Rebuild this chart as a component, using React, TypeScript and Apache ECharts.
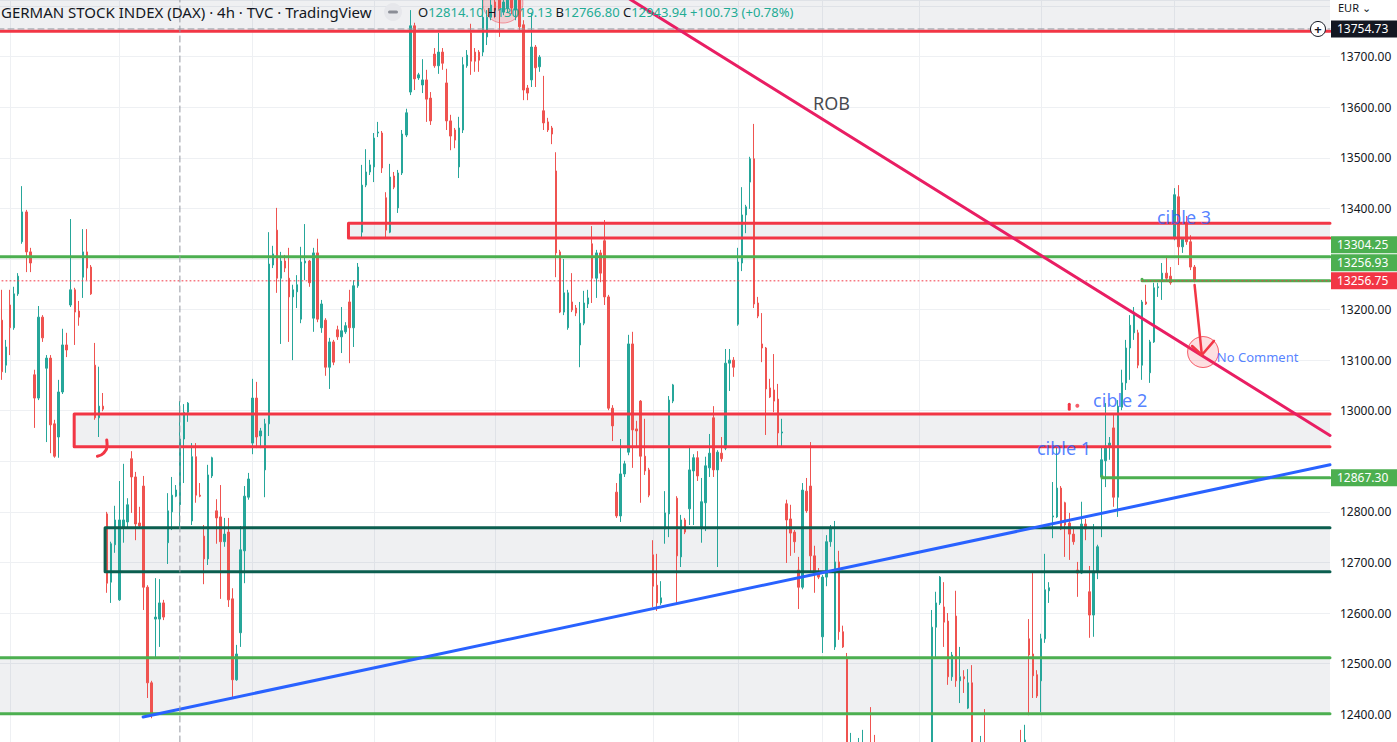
import React, { useEffect, useRef } from "react";
import * as echarts from "echarts";

// [open, close, low, high] — 4h candles, left to right
const candles: number[][] = [
  [13179,13077,13061,13239],[13090,13126,13075,13140],[13209,13164,13110,13239],[13164,13231,13160,13245],
  [13231,13266,13227,13272],[13334,13393,13330,13444],[13393,13314,13274,13397],[13314,13292,13274,13322],
  [13071,13025,12966,13081],[13025,13185,13021,13207],[13185,13144,13136,13189],[13084,13104,12938,13110],
  [13104,12972,12916,13110],[12974,12910,12907,12982],[12948,13037,12907,13061],[13037,13130,13033,13162],
  [13130,13120,13106,13154],[13209,13239,13205,13379],[13239,13195,13130,13243],[13197,13185,13168,13217],
  [13264,13314,13223,13359],[13314,13282,13258,13359],[13284,13231,13229,13288],[13090,12986,12982,13134],
  [12986,13009,12948,13087],[13009,13003,12999,13035],[12796,12659,12640,12800],[12661,12737,12620,12741],
  [12735,12784,12719,12812],[12626,12784,12624,12861],[12770,12784,12739,12895],[12780,12814,12770,12827],
  [12905,12869,12798,12920],[12869,12776,12744,12879],[12778,12772,12770,12810],[12851,12651,12606,12871],
  [12651,12462,12432,12655],[12462,12398,12392,12466],[12588,12592,12513,12669],[12588,12620,12533,12667],
  [12620,12592,12586,12626],[12739,12802,12697,12837],[12800,12833,12764,12869],[12831,12843.21,12829,12853],
  [12814.10,12943.94,12766.80,13019.13],[12944,12997,12857,13013],[12997,13015,12978,13017],[12782,12909,12774,12936],
  [12909,12833,12818,12936],[12833,12831,12829,12857],[12752,12707,12657,12774],[12707,12873,12695,12893],
  [12871,12907,12867,12909],[12802,12788,12737,12825],[12790,12741,12628,12853],[12741,12756,12731,12788],
  [12760,12626,12612,12788],[12628,12468,12434,12649],[12468,12519,12466,12537],[12561,12725,12533,12772],
  [12723,12831,12659,12851],[12829,12865,12824,12877],[12936,13025,12914,13063],[13025,12948,12926,13057],
  [12950,12960,12926,12966],[12883,12974,12829,12984],[12974,13290,12950,13353],[13288,13310,13282,13326],
  [13357,13262,13233,13401],[13262,13296,13132,13314],[13296,13282,13274,13308],[13262,13225,13136,13322],
  [13225,13239,13100,13249],[13235,13249,13203,13268],[13181,13294,13173,13324],[13292,13296,13258,13369],
  [13296,13253,13245,13298],[13183,13312,13156,13322],[13312,13181,13175,13340],[13164,13211,13154,13219],
  [13179,13086,13069,13183],[13086,13136,13043,13144],[13136,13096,13090,13140],[13160,13146,13140,13168],
  [13146,13158,13114,13205],[13156,13168,13152,13175],[13215,13164,13094,13239],[13164,13247,13126,13258],
  [13247,13284,13243,13292],[13353,13446,13343,13486],[13446,13472,13442,13517],[13472,13486,13466,13496],
  [13482,13539,13452,13549],[13549,13551,13541,13571],[13549,13480,13470,13553],[13421,13357,13340,13432],
  [13353,13462,13351,13488],[13464,13442,13438,13472],[13401,13470,13391,13476],[13470,13547,13466,13555],
  [13545,13589,13541,13597],[13630,13761,13624,13792],[13761,13656,13634,13767],[13658,13664,13654,13668],
  [13644,13654,13628,13695],[13654,13616,13571,13674],[13618,13573,13565,13630],[13705,13682,13678,13717],
  [13682,13709,13666,13747],[13709,13687,13674,13717],[13648,13573,13555,13676],[13573,13543,13515,13585],
  [13555,13535,13519,13559],[13482,13559,13460,13581],[13555,13684,13549,13699],[13682,13703,13678,13713],
  [13747,13691,13664,13765],[13709,13691,13670,13717],[13709,13693,13670,13713],[13709,13778,13701,13812],
  [13739,13778,13723,13792],[13778,13802,13772,13822],[13808,13792,13776,13822],[13812,13792,13739,13828],
  [13788,13808,13782,13822],[13796,13812,13788,13824],[13812,13796,13784,13820],[13792,13812,13772,13822],
  [13812,13759,13749,13822],[13763,13634,13614,13772],[13638,13628,13614,13644],[13654,13719,13640,13786],
  [13719,13678,13640,13723],[13680,13699,13670,13703],[13593,13569,13555,13662],[13571,13555,13551,13579],
  [13559,13547,13527,13563],[13474,13312,13264,13511],[13314,13195,13193,13318],[13195,13233,13189,13300],
  [13164,13233,13160,13239],[13215,13199,13195,13272],[13203,13193,13187,13209],[13130,13173,13086,13215],
  [13173,13213,13169,13237],[13211,13223,13203,13239],[13330,13262,13213,13365],[13262,13312,13223,13318],
  [13312,13272,13254,13318],[13336,13225,13209,13377],[13225,13005,13001,13229],[13005,12970,12940,13011],
  [12839,12792,12788,12857],[12792,12875,12780,12944],[12875,12895,12869,12901],[12918,13132,12912,13150],
  [13132,12962,12887,13156],[12964,12960,12926,12980],[13019,12910,12818,13021],[12910,12881,12873,12984],
  [12883,12833,12829,12887],[12715,12653,12612,12744],[12655,12620,12604,12717],[12620,12630,12616,12663],
  [12766,12798,12737,12841],[12796,13021,12750,13029],[13019,13051,13015,13053],[12827,12713,12620,12831],
  [12711,12784,12691,12794],[12784,12760,12756,12788],[12806,12883,12774,12928],[12881,12907,12774,12914],
  [12907,12871,12861,12920],[12770,12820,12739,12867],[12818,12891,12762,12909],[12887,12916,12869,12954],
  [12986,12883,12869,13009],[12883,12918,12691,12922],[12916,12905,12899,12948],[12926,13094,12922,13122],
  [13094,13100,13039,13122],[13100,13086,13067,13106],[13171,13294,13168,13322],[13292,13387,13276,13442],
  [13387,13403,13351,13407],[13452,13498,13399,13502],[13498,13211,13203,13567],[13213,13187,13183,13225],
  [13132,13124,13096,13193],[13124,13043,12952,13126],[13045,13027,13025,13063],[13041,13019,12997,13112],
  [13023,12956,12928,13053],[12956,12958,12930,12984],[12816,12784,12699,12824],[12786,12758,12713,12814],
  [12760,12741,12719,12764],[12685,12651,12608,12711],[12651,12843,12647,12857],[12841,12802,12798,12867],
  [12851,12713,12679,12938],[12713,12679,12640,12733],[12679,12671,12667,12689],[12553,12671,12521,12675],
  [12671,12741,12653,12754],[12741,12768,12731,12774],[12533,12701,12527,12782],[12701,12563,12547,12723],
  [12563,12533,12531,12575],[12509,12309,12250,12521],[12290,12329,12250,12363],[12325,12290,12250,12339],
  [12290,12319,12270,12353],[12309,12333,12280,12369],[12329,12290,12250,12339],[12309,12270,12230,12414],
  [12280,12250,12211,12359],[12250,12230,12190,12290],[12230,12260,12200,12300],[12260,12220,12180,12280],
  [12220,12180,12150,12250],[12180,12210,12160,12240],[12210,12190,12170,12250],[12190,12230,12180,12270],
  [12230,12260,12210,12300],[12260,12240,12220,12290],[12240,12270,12220,12310],[12270,12250,12230,12300],
  [12250,12280,12230,12320],[12280,12300,12260,12330],[12309,12572,12290,12606],[12572,12620,12513,12642],
  [12620,12671,12616,12673],[12612,12582,12533,12661],[12584,12474,12458,12600],[12474,12517,12466,12523],
  [12594,12466,12454,12644],[12466,12474,12422,12533],[12474,12470,12442,12487],[12412,12462,12410,12489],
  [12462,12309,12250,12497],[12309,12280,12250,12329],[12280,12319,12250,12357],[12319,12290,12260,12410],
  [12290,12260,12230,12310],[12260,12240,12200,12300],[12240,12270,12210,12290],[12270,12250,12220,12300],
  [12250,12280,12230,12310],[12280,12260,12240,12320],[12260,12290,12240,12320],[12290,12310,12270,12330],
  [12320,12290,12270,12369],[12290,12349,12270,12379],[12549,12517,12398,12588],[12519,12476,12432,12679],
  [12478,12436,12432,12487],[12466,12549,12404,12559],[12549,12646,12541,12717],[12644,12650,12620,12661],
  [12790,12792,12748,12859],[12790,12847,12788,12930],[12847,12766,12764,12851],[12818,12774,12711,12820],
  [12778,12756,12705,12798],[12756,12741,12735,12770],[12685,12679,12632,12701],[12679,12776,12677,12820],
  [12776,12766,12744,12786],[12642,12596,12551,12693],[12596,12683,12553,12776],[12683,12731,12667,12735],
  [12869,12903,12750,12930],[12901,12930,12849,13015],[12928,12936,12903,12948],[12966,12829,12810,12992],
  [12829,13009,12790,13021],[13007,13055,13001,13081],[13055,13124,13041,13140],[13124,13169,13061,13189],
  [13154,13195,13140,13205],[13154,13090,13084,13160],[13090,13215,13061,13219],[13215,13211,13209,13249],
  [13075,13136,13055,13140],[13136,13243,13134,13253],[13243,13245,13225,13253],[13258,13272,13219,13292],
  [13272,13262,13256,13306],[13266,13253,13249,13284],[13343,13427,13337,13440],[13423,13324,13288,13446],
  [13324,13339,13312,13343],[13369,13334,13328,13385],[13334,13284,13278,13347],[13284,13256.75,13254,13288],
];

const slotCount = 329; // candle slots incl. empty right margin
const hoverIndex = 44;
const crosshairPrice = 13754.73;
const lastPrice = 13256.75;
const viewTop = 13812, viewBottom = 12345, yStep = 100;
const timeGridIdx = [2, 29, 62, 92, 122, 161, 182, 203, 227, 257, 290];

const topZoneLevel = 13750;
const supportLevel = 13304.25;
const targetLevels = [
  { price: 13256.93, from: 282 },
  { price: 12867.3, from: 272.1 },
];
const boxes = [
  { from: 85.7, top: 13370.5, bottom: 13341.5, color: "#f23645" },
  { from: 17.85, top: 12993.5, bottom: 12928.9, color: "#f23645" },
  { from: 25.5, top: 12768.7, bottom: 12681.7, color: "#0b5e4f" },
  { from: -3, top: 12511.7, bottom: 12401, color: "#4caf50" },
];
const blueTrend = [[34.9, 12394.5], [328.5, 12893]];
const robTrend = [[145, 13865], [328.5, 12951]];
const hookMark = [[25.9, 12942], [26.0, 12930], [25.1, 12916], [23.6, 12910]];
const tickMark = [[264, 13013], [264, 13003]];
const dotMark = [266, 13010];
const arrowShaft = [[295, 13248.6], [296.8, 13110.2]];
const arrowHead = [[294.4, 13128], [296.8, 13110.2], [299.8, 13138]];
const targetCircle = [297.1, 13116];
const topCircle = [123.9, 13806];
const notes = [
  { text: "ROB", at: [200.6, 13608], color: "#131722", size: 18 },
  { text: "cible 3", at: [285.7, 13383], color: "#2962ff", size: 18 },
  { text: "cible 2", at: [269.9, 13021], color: "#2962ff", size: 18 },
  { text: "cible 1", at: [256.0, 12926], color: "#2962ff", size: 18 },
  { text: "No Comment", at: [300.5, 13106], color: "#2962ff", size: 13 },
];
const axisTags = [
  { price: lastPrice, bg: "#f23645" },
  { price: 13256.93, bg: "#4caf50" },
  { price: 13304.25, bg: "#4caf50" },
  { price: 12867.3, bg: "#4caf50" },
];
const titleParts = ["GERMAN STOCK INDEX (DAX)", "4h", "TVC", "TradingView"];

const FONT = '"Noto Sans", "Open Sans", sans-serif';
const UP = "#26a69a";
const DOWN = "#ef5350";

export default function App() {
  const ref = useRef<HTMLDivElement>(null);

  useEffect(() => {
    const el = ref.current!;
    const chart = echarts.init(el, undefined, { renderer: "svg" });
    const W = 1397, plotRight = 67;
    const xMax = slotCount - 0.5;

    const seg = (data: number[][], color: string, width: number, z = 3, type: any = "solid", smooth = false) => ({
      type: "line", xAxisIndex: 1, yAxisIndex: 0, data, symbol: "none", silent: true, z, smooth,
      lineStyle: { color, width, type, cap: "round", join: "round" },
    });

    const series: any[] = [];
    series.push({
      type: "line", xAxisIndex: 1, yAxisIndex: 0, data: [], silent: true,
      markLine: {
        z: 0, silent: true, symbol: ["none", "none"], label: { show: false },
        lineStyle: { color: "#eef0f3", width: 1, type: "solid" },
        data: timeGridIdx.map((i) => ({ xAxis: i })),
      },
    });
    series.push({
      type: "line", xAxisIndex: 1, yAxisIndex: 0, data: [], silent: true,
      markArea: {
        z: 1, silent: true, itemStyle: { color: "rgba(112,116,140,0.11)" },
        data: [
          [{ coord: [-0.5, viewTop] }, { coord: [xMax, topZoneLevel] }],
          ...boxes.map((b) => [{ coord: [Math.max(b.from, -0.5), b.top] }, { coord: [xMax, b.bottom] }]),
        ],
      },
    });
    series.push({
      type: "scatter", xAxisIndex: 1, yAxisIndex: 0, silent: true, z: 1, clip: false,
      data: [
        { value: topCircle, symbolSize: 40, itemStyle: { color: "rgba(242,54,69,0.22)", borderColor: "rgba(242,54,69,0.6)", borderWidth: 1 } },
      ],
    });
    series.push({
      type: "candlestick", xAxisIndex: 0, yAxisIndex: 0, z: 2, barWidth: 2, silent: true,
      data: candles.map((c) => [c[0], c[1], c[2], c[3]]),
      itemStyle: { color: UP, color0: DOWN, borderColor: UP, borderColor0: DOWN, borderWidth: 1 },
    });
    series.push(seg([[-1, topZoneLevel], [xMax, topZoneLevel]], "#f23645", 3));
    series.push(seg([[-1, supportLevel], [xMax, supportLevel]], "#4caf50", 3));
    targetLevels.forEach((t) => series.push(seg([[t.from, t.price + 3], [t.from, t.price], [xMax, t.price]], "#4caf50", 3)));
    boxes.forEach((b) =>
      series.push(seg([[xMax, b.top], [b.from, b.top], [b.from, b.bottom], [xMax, b.bottom]], b.color, 3))
    );
    series.push(seg([[-1, lastPrice], [xMax, lastPrice]], "#f23645", 1, 3, [1, 3]));
    series.push(seg(blueTrend, "#2962ff", 3, 4));
    series.push(seg(robTrend, "#e91e63", 3, 4));
    series.push(seg(hookMark, "#f23645", 3, 4, "solid", true));
    series.push(seg(tickMark, "#f23645", 3, 4));
    series.push(seg(arrowShaft, "#f23645", 2.5, 6));
    series.push(seg(arrowHead, "#f23645", 2.5, 6));
    series.push(seg([[hoverIndex, viewBottom], [hoverIndex, viewTop]], "#9598a1", 1, 5, [6, 4]));
    series.push(seg([[-1, crosshairPrice], [xMax, crosshairPrice]], "#9598a1", 1, 5, [6, 4]));
    series.push({
      type: "scatter", xAxisIndex: 1, yAxisIndex: 0, silent: true, z: 5, clip: false,
      data: [
        { value: targetCircle, symbolSize: 31, itemStyle: { color: "rgba(242,54,69,0.2)", borderColor: "#f23645", borderWidth: 1 } },
        { value: dotMark, symbolSize: 4, itemStyle: { color: "#f23645" } },
      ],
    });
    series.push({
      type: "scatter", xAxisIndex: 1, yAxisIndex: 0, silent: true, z: 7, symbolSize: 0,
      data: notes.map((n) => ({
        value: n.at,
        label: {
          show: true, formatter: n.text, position: "right", distance: 0,
          color: n.color, fontSize: n.size, fontFamily: FONT,
        },
      })),
    });

    const labelFormatter = (hidden: number[]) => (val: number) => {
      if (val > 13760 || val < 12350) return "";
      if (hidden.some((h) => Math.abs(h - val) < 1e-6)) return "";
      return val.toFixed(2);
    };

    const yAxisOpt = (hidden: number[]) => ({
      type: "value", position: "right", min: viewBottom, max: viewTop,
      minInterval: yStep, maxInterval: yStep,
      axisLine: { show: false }, axisTick: { show: false },
      splitLine: { show: true, lineStyle: { color: "#eef0f3", width: 1 } },
      axisLabel: {
        margin: 10, color: "#131722", fontSize: 12, fontFamily: FONT,
        showMinLabel: false, showMaxLabel: false,
        formatter: labelFormatter(hidden),
      },
    });

    chart.setOption({
      animation: false,
      backgroundColor: "#ffffff",
      grid: { left: 0, right: plotRight, top: 0, bottom: 0, containLabel: false },
      xAxis: [
        {
          type: "category", data: Array.from({ length: slotCount }, (_, i) => String(i)),
          boundaryGap: true, show: false,
        },
        { type: "value", min: -0.5, max: xMax, show: false },
      ],
      yAxis: yAxisOpt([]),
      series,
    });

    const yPix = (val: number) => chart.convertToPixel({ yAxisIndex: 0 }, val) as number;
    const tagH = 17;
    const tagGap = 18;
    const placed: number[] = [];
    const graphics: any[] = [];
    const tagText = (text: string, y: number, fill: string) => ({
      type: "text", z: 101, x: W - plotRight + 7, y,
      style: {
        text, fill, font: `12px ${FONT}`, lineHeight: 12,
        verticalAlign: "middle", textVerticalAlign: "middle",
      },
    });
    axisTags.forEach((t) => {
      let y = yPix(t.price);
      let moved = true;
      while (moved) {
        moved = false;
        for (const p of placed) {
          if (Math.abs(p - y) < tagGap - 0.01) { y = p - tagGap; moved = true; }
        }
      }
      placed.push(y);
      graphics.push({
        type: "rect", z: 100, shape: { x: W - plotRight + 1, y: y - tagH / 2, width: plotRight - 1, height: tagH },
        style: { fill: t.bg },
      });
      graphics.push(tagText(t.price.toFixed(2), y, "#ffffff"));
    });
    const cy = yPix(crosshairPrice);
    placed.push(cy);

    // hide scale labels that sit under a tag
    const hidden: number[] = [];
    for (let val = Math.ceil(viewBottom / yStep) * yStep; val <= viewTop; val += yStep) {
      const py = yPix(val);
      if (placed.some((p) => Math.abs(p - py) < tagH)) hidden.push(val);
    }

    graphics.push({
      type: "rect", z: 100, shape: { x: W - plotRight + 1, y: cy - tagH / 2, width: plotRight - 1, height: tagH },
      style: { fill: "#131722" },
    });
    graphics.push(tagText(crosshairPrice.toFixed(2), cy, "#ffffff"));
    graphics.push({
      type: "circle", z: 101, shape: { cx: W - plotRight - 12, cy, r: 7.5 },
      style: { fill: "#ffffff", stroke: "#131722", lineWidth: 1 },
    });
    graphics.push({
      type: "text", z: 102, x: W - plotRight - 12, y: cy,
      style: { text: "+", fill: "#131722", font: `bold 13px ${FONT}`, align: "center", verticalAlign: "middle", textAlign: "center", textVerticalAlign: "middle" },
    });
    graphics.push({
      type: "text", z: 101, x: W - plotRight + 8, y: 7,
      style: { text: "EUR ⌄", fill: "#131722", font: `11px ${FONT}`, verticalAlign: "middle", textVerticalAlign: "middle" },
    });
    const hc = candles[hoverIndex];
    const prevClose = candles[hoverIndex - 1][1];
    const chg = hc[1] - prevClose;
    const pct = (chg / prevClose) * 100;
    const sign = chg >= 0 ? "+" : "";
    graphics.push({
      type: "text", z: 110, x: 1, y: 12,
      style: { text: titleParts.join(" · "), fill: "#131722", font: `15px ${FONT}`, verticalAlign: "middle", textVerticalAlign: "middle" },
    });
    graphics.push({ type: "circle", z: 110, shape: { cx: 393, cy: 12, r: 9 }, style: { fill: "#e6e7eb" } });
    graphics.push({
      type: "rect", z: 111, shape: { x: 388, y: 10.5, width: 10, height: 3, r: 1.5 }, style: { fill: "#8a8d96" },
    });
    const f2 = (n: number) => n.toFixed(2);
    graphics.push({
      type: "text", z: 110, x: 418, y: 12,
      style: {
        text: `{l|O}{g|${f2(hc[0])}} {l|H}{g|${f2(hc[3])}} {l|B}{g|${f2(hc[2])}} {l|C}{g|${f2(hc[1])}} {g|${sign}${f2(chg)} (${sign}${pct.toFixed(2)}%)}`,
        font: `13px ${FONT}`, verticalAlign: "middle", textVerticalAlign: "middle",
        rich: {
          l: { fill: "#131722", color: "#131722", fontSize: 13, fontFamily: FONT },
          g: { fill: "#22ab94", color: "#22ab94", fontSize: 13, fontFamily: FONT },
        },
      },
    });
    chart.setOption({ yAxis: yAxisOpt(hidden), graphic: graphics });

    return () => chart.dispose();
  }, []);

  return (
    <div
      ref={ref}
      style={{ position: "fixed", left: 0, top: 0, width: 1397, height: 742, background: "#ffffff" }}
    />
  );
}
